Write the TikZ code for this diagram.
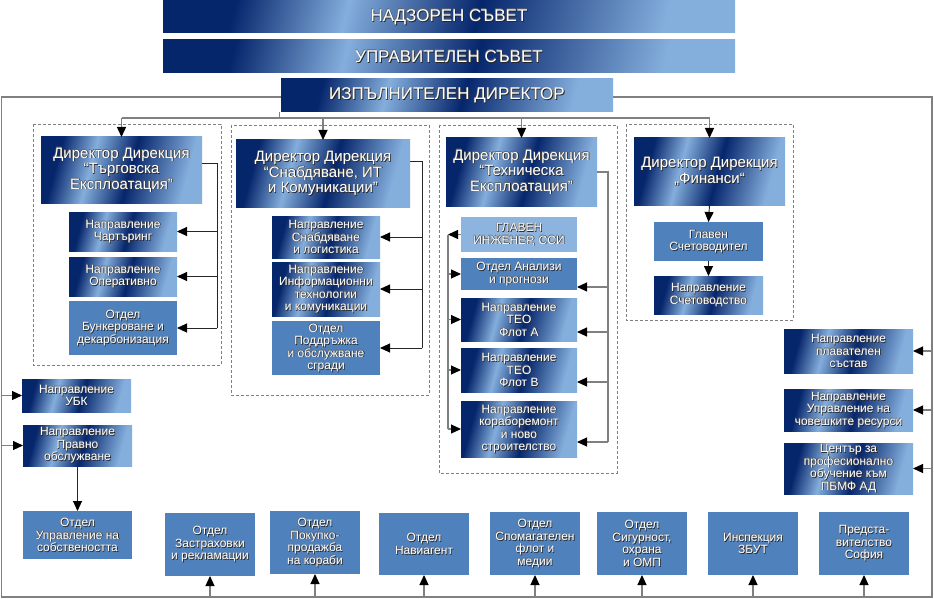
\documentclass[tikz,border=0pt]{standalone}
\usepackage{fontspec}
\setmainfont{Liberation Sans}
\usetikzlibrary{arrows.meta}

\definecolor{navy}{RGB}{6,38,108}
\definecolor{lblue}{RGB}{132,174,220}
\definecolor{midblue}{RGB}{79,129,189}
\definecolor{paleblue}{RGB}{141,180,222}
\definecolor{framegray}{RGB}{128,128,128}

\pgfdeclarehorizontalshading{boxgrad}{100bp}{color(0bp)=(navy); color(27bp)=(navy); color(39bp)=(lblue); color(53bp)=(navy); color(73bp)=(lblue); color(100bp)=(lblue)}

\newcommand\bx[8]{%
  \node[#1, anchor=north west, inner sep=0pt, outer sep=0pt,
        minimum width={(#5-#3)*1pt}, minimum height={(#6-#4)*1pt}] (#2) at (#3,#4) {};
  \node[#7, text=black!85] at ([shift={(0.8pt,-0.8pt)}]#2.center) {#8};
  \node[#7, text=black!60] at ([shift={(-0.4pt,0.4pt)}]#2.center) {#8};
  \node[#7, text=white] at (#2.center) {#8};}

\tikzset{
  grad/.style={shading=boxgrad, shading angle=-15},
  flat/.style={fill=midblue},
  paleb/.style={fill=paleblue},
  bigtxt/.style={font=\fontsize{17}{19}\selectfont, align=center, inner sep=0pt},
  dirtxt/.style={font=\fontsize{15}{15.5}\selectfont, align=center, inner sep=0pt},
  smtxt/.style={font=\fontsize{12}{12.5}\selectfont, align=center, inner sep=0pt},
  arr/.style={-{Triangle[length=10pt,width=9pt,color=black]}},
  conn/.style={line width=0.9pt, black!85},
  gline/.style={line width=1.3pt, framegray},
  dbox/.style={draw=framegray, dash pattern=on 3pt off 2pt, line width=0.9pt},
}

\begin{document}
\begin{tikzpicture}[x=1pt, y=-1pt]
\useasboundingbox (0,0) rectangle (934,599);
\fill[white] (0,0) rectangle (934,599);

% outer frame
\draw[framegray, line width=1.8pt] (1.5,97) rectangle (932,597);

% dashed groups
\draw[dbox] (33,124) rectangle (221,365);
\draw[dbox] (231,125) rectangle (429,395);
\draw[dbox] (439,125) rectangle (617,473);
\draw[dbox] (626,124) rectangle (793,320);

% top boxes
\bx{grad}{NS}{163}{1}{735}{33}{bigtxt}{НАДЗОРЕН СЪВЕТ}
\bx{grad}{US}{163}{40}{735}{73}{bigtxt}{УПРАВИТЕЛЕН СЪВЕТ}
\bx{grad}{ID}{281}{79}{613}{112}{bigtxt}{ИЗПЪЛНИТЕЛЕН ДИРЕКТОР}

% directors
\bx{grad}{D1}{41}{137}{202}{203}{dirtxt}{Директор Дирекция\\“Търговска\\Експлоатация”}
\bx{grad}{D2}{236}{140}{410}{207}{dirtxt}{Директор Дирекция\\“Снабдяване, ИТ\\и Комуникации”}
\bx{grad}{D3}{446}{138}{597}{206}{dirtxt}{Директор Дирекция\\“Техническа\\Експлоатация”}
\bx{grad}{D4}{634}{138}{785}{205}{dirtxt}{Директор Дирекция\\„Финанси“}

% column 1
\bx{grad}{Chart}{69}{212}{177}{251}{smtxt}{Направление\\Чартъринг}
\bx{grad}{Oper}{69}{257}{177}{296}{smtxt}{Направление\\Оперативно}
\bx{flat}{Bunk}{69}{301}{177}{355}{smtxt}{Отдел\\Бункероване и\\декарбонизация}

% column 2
\bx{grad}{Snab}{272}{216}{380}{258}{smtxt}{Направление\\Снабдяване\\и логистика}
\bx{grad}{Info}{272}{262}{380}{316}{smtxt}{Направление\\Информационни\\технологии\\и комуникации}
\bx{flat}{Podd}{272}{321}{380}{375}{smtxt}{Отдел\\Поддръжка\\и обслужване\\сгради}

% column 3
\bx{paleb}{Glav}{461}{217}{577}{252}{smtxt}{ГЛАВЕН\\ИНЖЕНЕР, ССИ}
\bx{flat}{Anal}{461}{258}{577}{290}{smtxt}{Отдел Анализи\\и прогнози}
\bx{grad}{TeoA}{461}{298}{577}{341}{smtxt}{Направление\\ТЕО\\Флот А}
\bx{grad}{TeoB}{461}{348}{577}{392}{smtxt}{Направление\\ТЕО\\Флот В}
\bx{grad}{Korab}{461}{401}{577}{457}{smtxt}{Направление\\кораборемонт\\и ново\\строителство}

% column 4
\bx{flat}{GS}{654}{222}{763}{261}{smtxt}{Главен\\Счетоводител}
\bx{grad}{Schet}{654}{276}{763}{314}{smtxt}{Направление\\Счетоводство}

% right boxes
\bx{grad}{Plav}{784}{329}{913}{373}{smtxt}{Направление\\плавателен\\състав}
\bx{grad}{HR}{784}{389}{913}{431}{smtxt}{Направление\\Управление на\\човешките ресурси}
\bx{grad}{Cent}{784}{443}{913}{494}{smtxt}{Център за\\професионално\\обучение към\\ПБМФ АД}

% left boxes
\bx{grad}{UBK}{22}{379}{131}{412}{smtxt}{Направление\\УБК}
\bx{grad}{Prav}{23}{425}{132}{466}{smtxt}{Направление\\Правно\\обслужване}
\bx{flat}{Sobst}{23}{511}{132}{559}{smtxt}{Отдел\\Управление на\\собствеността}

% bottom row
\bx{flat}{Zastr}{165}{513}{255}{576}{smtxt}{Отдел\\Застраховки\\и рекламации}
\bx{flat}{Pokup}{270}{511}{360}{574}{smtxt}{Отдел\\Покупко-\\продажба\\на кораби}
\bx{flat}{Navi}{379}{513}{469}{575}{smtxt}{Отдел\\Навиагент}
\bx{flat}{Spom}{490}{512}{580}{575}{smtxt}{Отдел\\Спомагателен\\флот и\\медии}
\bx{flat}{Sig}{597}{512}{687}{575}{smtxt}{Отдел\\Сигурност,\\охрана\\и ОМП}
\bx{flat}{Insp}{708}{512}{798}{575}{smtxt}{Инспекция\\ЗБУТ}
\bx{flat}{Pred}{819}{512}{909}{575}{smtxt}{Предста-\\вителство\\София}

% helper coordinates
\coordinate (busy) at (0,118);
\coordinate (c1x) at (217,0);
\coordinate (c2x) at (422,0);
\coordinate (c3l) at (448,0);
\coordinate (rx) at (932,0);
\coordinate (lx) at (1.5,0);
\coordinate (by) at (0,597);
\coordinate (r1) at (608,287);
\coordinate (r2) at (608,332);
\coordinate (r3) at (608,382);
\coordinate (r4) at (608,442);

% bus from executive director
\draw[gline] ([xshift=-1.5pt]ID.south west) -- ([xshift=-1.5pt]ID.south west |- busy);
\draw[gline] (D1.north |- busy) -- (D4.north |- busy);
\foreach \d in {D1,D2,D3,D4} \draw[gline,arr] (\d.north |- busy) -- (\d.north);

% column 1 connectors
\draw[conn] ([yshift=7pt]D1.east) -| (c1x |- Bunk.east);
\foreach \b in {Chart,Oper,Bunk} \draw[conn,arr] (c1x |- \b.east) -- (\b.east);

% column 2 connectors
\draw[conn] ([yshift=12pt]D2.east) -| (c2x |- Podd.east);
\foreach \b in {Snab,Info,Podd} \draw[conn,arr] (c2x |- \b.east) -- (\b.east);

% column 3 connectors (right)
\draw[gline, line width=1.1pt] (D3.east) -| (r4);
\draw[gline, line width=1.1pt, arr] (r1) -- (Anal.east |- r1);
\draw[gline, line width=1.1pt, arr] (r2) -- (TeoA.east |- r2);
\draw[gline, line width=1.1pt, arr] (r3) -- (TeoB.east |- r3);
\draw[gline, line width=1.1pt, arr] (r4) -- (Korab.east |- r4);

% column 3 connectors (left)
\draw[gline, line width=1.1pt, arr] (Glav.west) -- (c3l |- Glav.west);
\draw[gline, line width=1.1pt] (c3l |- Glav.west) -- (c3l |- Korab.west);
\foreach \b in {Anal,TeoA,TeoB,Korab} \draw[gline, line width=1.1pt, arr] (c3l |- \b.west) -- (\b.west);

% column 4 connectors
\draw[conn,arr] (D4.south) -- (GS.north);
\draw[conn,arr] (GS.south) -- (Schet.north);

% right side
\foreach \b in {Plav,HR,Cent} \draw[gline, line width=1.1pt, arr] (rx |- \b.east) -- (\b.east);

% left side
\foreach \b in {UBK,Prav} \draw[gline, line width=1.1pt, arr] (lx |- \b.west) -- (\b.west);
\draw[conn,arr] (Prav.south) -- (Sobst.north);

% bottom row
\foreach \b in {Zastr,Pokup,Navi,Spom,Sig,Insp,Pred} \draw[gline, line width=1.1pt, arr] (\b.south |- by) -- (\b.south);

\end{tikzpicture}
\end{document}
